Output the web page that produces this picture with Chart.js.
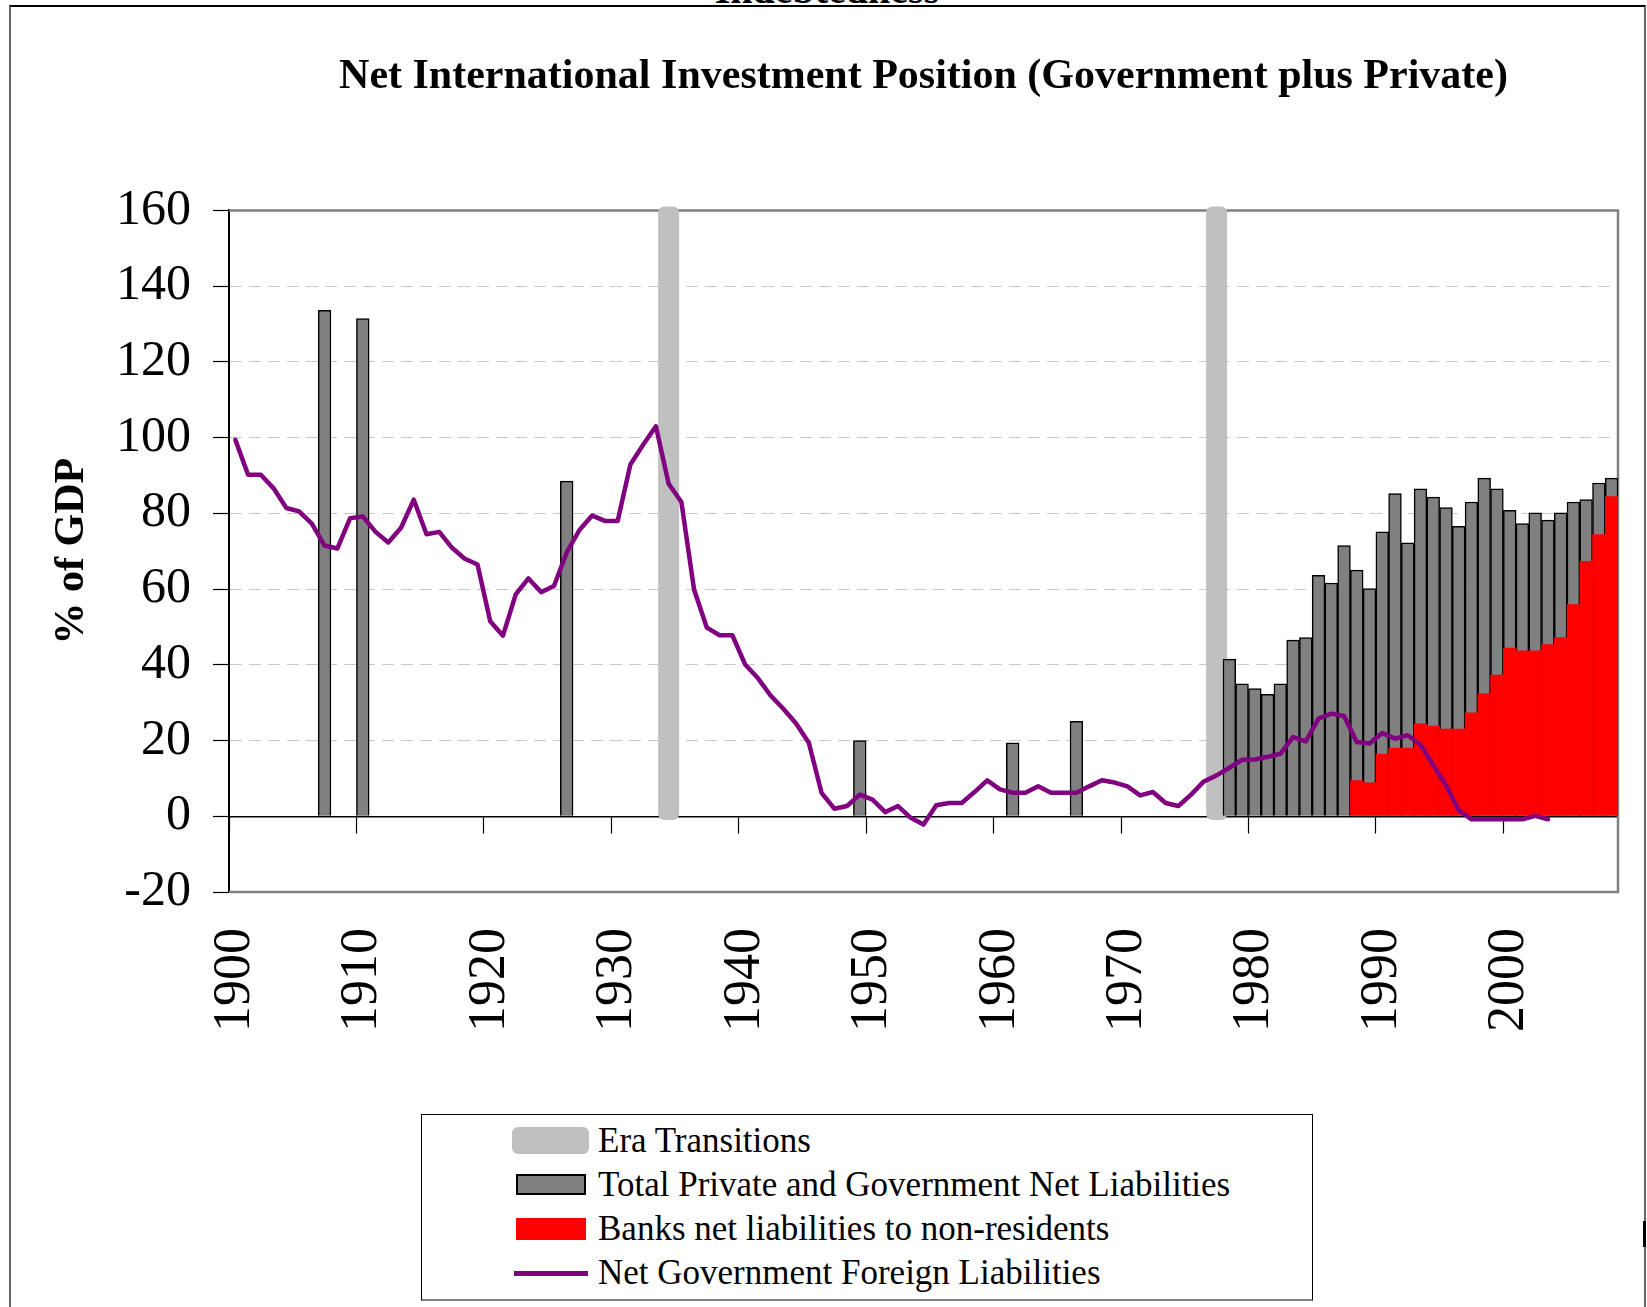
<!DOCTYPE html>
<html>
<head>
<meta charset="utf-8">
<title>Net International Investment Position</title>
<script src="https://cdn.jsdelivr.net/npm/chart.js@4.4.1/dist/chart.umd.min.js"></script>
<style>
  html, body { margin: 0; padding: 0; background: #fff; overflow: hidden; }
  body { width: 1647px; height: 1307px; position: relative; font-family: 'Liberation Serif', 'Times New Roman', serif; color: #000; }
  .frame { position: absolute; left: 9px; top: 5px; width: 1633px; height: 1400px; border-top: 2px solid #000; border-left: 2px solid #666; border-right: 2px solid #666; }
  .cut-title { position: absolute; left: 427px; width: 800px; top: -30px; line-height: 40px; font-size: 40px; font-weight: bold; text-align: center; }
  .mark { position: absolute; left: 1643px; top: 1221px; width: 3px; height: 26px; background: #000; }
  #wrap { position: absolute; left: 0; top: 0; width: 1647px; height: 1307px; }
  #legend { position: absolute; left: 421px; top: 1114px; width: 892px; height: 187px; box-sizing: border-box;
            border: 1.5px solid #000; border-bottom: 2px solid #808080; background: #fff; }
  #legend .item { position: absolute; left: 0; width: 100%; height: 44px; }
  #legend .swatch { position: absolute; box-sizing: border-box; }
  #legend .text { position: absolute; left: 176px; top: 0; line-height: 44px; font-size: 35px; white-space: nowrap; }
</style>
</head>
<body>
<div class="frame"></div>
<div class="cut-title">Indebtedness</div>
<div class="mark"></div>
<div id="wrap"><canvas id="chart"></canvas></div>
<div id="legend"></div>

<script>
const years = [];
for (let y = 1900; y <= 2008; y++) years.push(y);

// era transitions (grey bands)
const eraYears = [1934, 1977];
const eraSpan = [-1, 161];

// total private and government net liabilities, % of GDP
const totalYears = [1907, 1910, 1926, 1949, 1961, 1966,
  1978, 1979, 1980, 1981, 1982, 1983, 1984, 1985, 1986, 1987,
  1988, 1989, 1990, 1991, 1992, 1993, 1994, 1995, 1996, 1997,
  1998, 1999, 2000, 2001, 2002, 2003, 2004, 2005, 2006, 2007, 2008];
const totalValues = [133.6, 131.4, 88.5, 20.0, 19.4, 25.1,
  41.5, 35.0, 33.7, 32.2, 35.0, 46.5, 47.2, 63.6, 61.6, 71.5,
  65.0, 60.1, 75.1, 85.2, 72.2, 86.5, 84.3, 81.5, 76.6, 83.0,
  89.3, 86.5, 80.8, 77.3, 80.1, 78.2, 80.1, 83.0, 83.6, 88.0, 89.3];

// banks net liabilities to non-residents
const bankYears = [1988, 1989, 1990, 1991, 1992, 1993, 1994, 1995, 1996, 1997,
  1998, 1999, 2000, 2001, 2002, 2003, 2004, 2005, 2006, 2007, 2008];
const bankValues = [9.5, 8.9, 16.5, 18.1, 18.1, 24.5, 23.9, 23.1, 23.1, 27.4,
  32.4, 37.4, 44.5, 43.8, 43.8, 45.4, 47.3, 56.0, 67.4, 74.5, 84.5];

// net government foreign liabilities, 1900-2003
const govValues = [
  99.4, 90.2, 90.2, 86.6, 81.4, 80.5, 77.3, 71.5, 70.7, 78.7,
  79.2, 75.1, 72.3, 76.2, 83.6, 74.5, 75.1, 70.9, 68.0, 66.5,
  51.5, 47.7, 58.6, 62.8, 59.2, 60.8, 69.6, 75.6, 79.4, 78.0,
  78.0, 92.9, 98.1, 103.0, 87.8, 83.0, 59.8, 49.8, 47.8, 47.8,
  40.1, 36.5, 31.9, 28.4, 24.5, 19.4, 6.2, 2.0, 2.7, 5.7,
  4.4, 1.1, 2.7, -0.4, -2.2, 2.9, 3.5, 3.5, 6.4, 9.5,
  7.1, 6.2, 6.2, 7.9, 6.2, 6.2, 6.2, 7.9, 9.5, 8.9,
  7.9, 5.5, 6.4, 3.5, 2.7, 5.7, 9.2, 10.8, 12.8, 14.9,
  15.0, 15.7, 16.5, 20.9, 19.8, 25.8, 27.1, 26.5, 19.6, 19.2,
  22.0, 20.5, 21.4, 18.9, 13.5, 8.2, 1.6, -0.8, -0.8, -0.8,
  -0.8, -0.8, 0.1, -0.8
];

const yTicks = [-20, 0, 20, 40, 60, 80, 100, 120, 140, 160];

const SERIF = "'Liberation Serif', 'Times New Roman', serif";

function byYear(keys, values) {
    return years.map(y => {
        const i = keys.indexOf(y);
        return i === -1 ? null : values[i];
    });
}

// grey frame around the plot (top, right, bottom)
const plotFrame = {
    id: 'plotFrame',
    beforeDatasetsDraw(chart) {
        const { ctx, chartArea: a } = chart;
        ctx.save();
        ctx.strokeStyle = '#808080';
        ctx.lineWidth = 2.5;
        ctx.beginPath();
        ctx.moveTo(a.left, a.top);
        ctx.lineTo(a.right, a.top);
        ctx.lineTo(a.right, a.bottom);
        ctx.lineTo(a.left, a.bottom);
        ctx.stroke();
        ctx.restore();
    }
};

const ctx = document.getElementById('chart').getContext('2d');

const chart = new Chart(ctx, {
    type: 'bar',
    data: {
        labels: years,
        datasets: [
            {
                label: 'Era Transitions',
                data: years.map(y => eraYears.includes(y) ? eraSpan : null),
                backgroundColor: '#c0c0c0',
                borderWidth: 0,
                borderRadius: 6,
                borderSkipped: false,
                barPercentage: 1.65,
                categoryPercentage: 1,
                grouped: false,
                clip: 8,
                order: 4
            },
            {
                label: 'Total Private and Government Net Liabilities',
                data: byYear(totalYears, totalValues),
                backgroundColor: '#808080',
                borderColor: '#000',
                borderWidth: 1.5,
                barPercentage: 1,
                categoryPercentage: 1,
                grouped: false,
                order: 3
            },
            {
                label: 'Banks net liabilities to non-residents',
                data: byYear(bankYears, bankValues),
                backgroundColor: '#ff0000',
                borderWidth: 0,
                barPercentage: 1.04,
                categoryPercentage: 1,
                grouped: false,
                order: 2
            },
            {
                type: 'line',
                label: 'Net Government Foreign Liabilities',
                data: years.map((y, i) => i < govValues.length ? govValues[i] : null),
                borderColor: '#800080',
                backgroundColor: '#800080',
                borderWidth: 4.5,
                borderJoinStyle: 'round',
                borderCapStyle: 'round',
                pointRadius: 0,
                tension: 0,
                order: 1
            }
        ]
    },
    options: {
        responsive: true,
        maintainAspectRatio: false,
        animation: false,
        layout: { padding: { left: 0, top: 0, right: 29, bottom: 215 } },
        plugins: {
            legend: { display: false },
            tooltip: { enabled: false },
            title: {
                display: true,
                fullSize: false,
                text: 'Net International Investment Position (Government plus Private)',
                color: '#000',
                font: { family: SERIF, size: 42, weight: 'bold' },
                padding: { top: 52, bottom: 108 }
            }
        },
        scales: {
            x: {
                type: 'category',
                offset: true,
                afterFit: s => { s.height = 200; s.paddingLeft = 0; s.paddingRight = 0; },
                grid: { display: false, offset: true },
                border: { display: false },
                ticks: {
                    autoSkip: false,
                    minRotation: 90,
                    maxRotation: 90,
                    padding: 28,
                    color: '#000',
                    font: { family: SERIF, size: 52 },
                    callback: (v, i) => years[i] % 10 === 0 ? String(years[i]) : ''
                }
            },
            x0: {
                type: 'category',
                axis: 'x',
                position: { y: 0 },
                offset: true,
                afterFit: s => { s.paddingLeft = 0; s.paddingRight = 0; },
                grid: {
                    offset: true,
                    drawOnChartArea: false,
                    drawTicks: true,
                    tickLength: 16,
                    tickWidth: 1.2,
                    tickColor: c => c.index % 10 === 0 ? '#000' : 'rgba(0,0,0,0)'
                },
                border: { display: true, color: '#000', width: 1.5 },
                ticks: { display: false, autoSkip: false }
            },
            y: {
                min: -20,
                max: 160,
                afterFit: s => { s.width = 229; },
                afterBuildTicks: s => { s.ticks = yTicks.map(v => ({ value: v })); },
                ticks: {
                    color: '#000',
                    padding: 22,
                    font: { family: SERIF, size: 50 }
                },
                grid: {
                    color: c => (c.tick && c.tick.value > -20 && c.tick.value < 160 && c.tick.value !== 0) ? '#c8c8c8' : 'rgba(0,0,0,0)',
                    lineWidth: 1,
                    drawTicks: true,
                    tickLength: 16,
                    tickWidth: 1.2,
                    tickColor: '#000'
                },
                border: { display: true, color: '#000', width: 2, dash: [12, 7] },
                title: {
                    display: true,
                    text: '% of GDP',
                    color: '#000',
                    font: { family: SERIF, size: 42, weight: 'bold' },
                    padding: { top: 47, bottom: 0 }
                }
            }
        }
    },
    plugins: [plotFrame]
});

// boxed legend below the chart, built from the datasets
const swatches = [
    { left: 90, top: 8, width: 77, height: 27, background: '#c0c0c0', borderRadius: '6px' },
    { left: 94, top: 11, width: 70, height: 21, background: '#808080', border: '2px solid #000' },
    { left: 94, top: 11, width: 70, height: 22, background: '#ff0000' },
    { left: 92, top: 20, width: 74, height: 5, background: '#800080' }
];
const legendBox = document.getElementById('legend');
chart.data.datasets.forEach((ds, i) => {
    const item = document.createElement('div');
    item.className = 'item';
    item.style.top = (4 + 44 * i) + 'px';
    const sw = document.createElement('div');
    sw.className = 'swatch';
    const s = swatches[i];
    sw.style.left = s.left + 'px';
    sw.style.top = s.top + 'px';
    sw.style.width = s.width + 'px';
    sw.style.height = s.height + 'px';
    sw.style.background = s.background;
    if (s.border) sw.style.border = s.border;
    if (s.borderRadius) sw.style.borderRadius = s.borderRadius;
    const txt = document.createElement('div');
    txt.className = 'text';
    txt.textContent = ds.label;
    item.appendChild(sw);
    item.appendChild(txt);
    legendBox.appendChild(item);
});
</script>
</body>
</html>
